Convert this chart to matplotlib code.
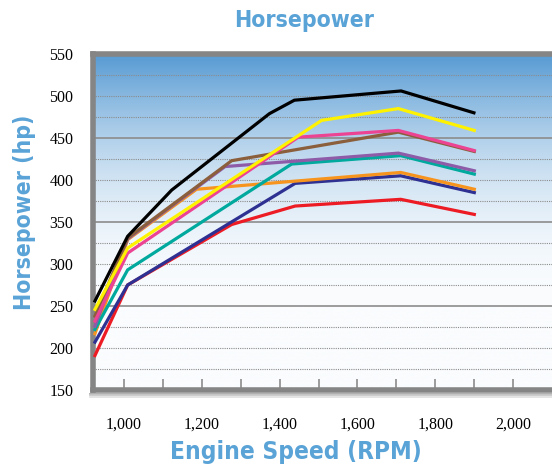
import matplotlib.pyplot as plt
import numpy as np
from matplotlib import font_manager
from matplotlib.font_manager import FontProperties
from matplotlib.lines import Line2D

# series: rpm points and horsepower values
black_rpm = [926, 1010, 1123, 1374, 1438, 1712, 1899]
black_hp = [256, 333, 388, 479, 495, 506, 480]
yellow_rpm = [926, 1010, 1508, 1705, 1900]
yellow_hp = [246, 319, 471, 485, 459]
pink_rpm = [926, 1010, 1448, 1705, 1900]
pink_hp = [232, 313, 451, 459, 435]
brown_rpm = [926, 1010, 1277, 1705, 1900]
brown_hp = [238, 331, 423, 457, 434]
purple_rpm = [926, 1010, 1260, 1705, 1900]
purple_hp = [226, 330, 416, 432, 411]
teal_rpm = [926, 1010, 1431, 1711, 1900]
teal_hp = [222, 293, 419, 429, 407]
orange_rpm = [926, 1010, 1187, 1711, 1900]
orange_hp = [217, 329, 389, 409, 389]
navy_rpm = [926, 1010, 1440, 1711, 1900]
navy_hp = [207, 275, 396, 405, 385]
red_rpm = [926, 1010, 1277, 1440, 1711, 1900]
red_hp = [191, 275, 347, 369, 377, 359]

series = [
    (red_rpm, red_hp, '#ED1C24'),
    (navy_rpm, navy_hp, '#2E3192'),
    (orange_rpm, orange_hp, '#F7941D'),
    (teal_rpm, teal_hp, '#00A99D'),
    (purple_rpm, purple_hp, '#8E5BA8'),
    (brown_rpm, brown_hp, '#8B5E3C'),
    (pink_rpm, pink_hp, '#EC4393'),
    (yellow_rpm, yellow_hp, '#FFF200'),
    (black_rpm, black_hp, '#000000'),
]

x_ticks = [1000, 1200, 1400, 1600, 1800, 2000]
x_labels = ['1,000', '1,200', '1,400', '1,600', '1,800', '2,000']
y_ticks = [150, 200, 250, 300, 350, 400, 450, 500, 550]

blue = '#5AA3D7'
num_font = 'Liberation Serif'


# pick the narrowest bold sans that is installed
def pick_condensed():
    order = {'ultra-condensed': 0, 'extra-condensed': 1, 'condensed': 2,
             'semi-condensed': 3, 'normal': 4}
    best = None
    for fe in font_manager.fontManager.ttflist:
        if fe.name not in ('Noto Sans', 'Open Sans', 'Roboto', 'DejaVu Sans',
                           'DejaVu Sans Condensed', 'Lato', 'Inter',
                           'Liberation Sans Narrow', 'Roboto Condensed',
                           'Open Sans Condensed'):
            continue
        w = fe.weight if isinstance(fe.weight, int) else {'bold': 700}.get(fe.weight, 400)
        if w < 600 or 'Italic' in fe.fname or fe.style != 'normal':
            continue
        st = fe.stretch
        if isinstance(st, int):
            rank = st / 125
        else:
            rank = order.get(st, 4)
        if 'Condensed' in fe.name or 'Narrow' in fe.name:
            rank = min(rank, 2)
        key = (rank, abs(w - 700))
        if best is None or key < best[0]:
            best = (key, fe.fname)
    return best[1] if best else None


head_path = pick_condensed()

fig = plt.figure(figsize=(5.52, 4.68), dpi=100)
ax = fig.add_axes([93 / 552, 1 - 390 / 468, (560 - 93) / 552, (390 - 54) / 468])
x0, x1 = 921, 2120
ax.set_xlim(x0, x1)
ax.set_ylim(150, 550)

# blue to white background
t = np.clip((550 - np.linspace(550, 150, 400)) / 300, 0, 1)
f = 1 - (1 - t) ** 2
top = np.array([86, 154, 211]) / 255
bot = np.array([250, 252, 254]) / 255
grad = top[None, :] + (bot - top)[None, :] * f[:, None]
ax.imshow(grad[:, None, :], extent=[x0, x1, 150, 550], aspect='auto', zorder=0)

for v in range(175, 550, 25):
    if (v - 150) % 100 == 0:
        ax.axhline(v, color='#8c8c8c', lw=1.2, zorder=1)
    else:
        ax.axhline(v, color='#8c8c8c', lw=0.8, ls=(0, (1, 1)), zorder=1)

for i, (xs, ys, c) in enumerate(series):
    ax.plot(xs, ys, color=c, lw=2.3, zorder=3 + i, solid_joinstyle='miter')

for s in ax.spines.values():
    s.set_color('#858585')
    s.set_linewidth(4)

# soft shadow under the frame
for k, col in enumerate(['#a8a8a8', '#c8c8c8', '#e2e2e2']):
    yy = 1 - (393.5 + k * 1.6) / 468
    fig.add_artist(Line2D([90 / 552, 1], [yy, yy], color=col, lw=1.3,
                          transform=fig.transFigure))

ax.set_xticks(x_ticks)
ax.set_xticklabels(x_labels, fontfamily=num_font, fontsize=11.5)
ax.set_xticks(range(1100, 2100, 200), minor=True)
ax.tick_params(axis='x', which='both', direction='in', length=8, width=1.2,
               color='#8c8c8c', pad=19)
ax.set_yticks(y_ticks)
ax.set_yticklabels([str(v) for v in y_ticks], fontfamily=num_font, fontsize=11.5)
ax.tick_params(axis='y', length=0, pad=14)


def head(x, y, s, span, rot=0):
    if head_path:
        fp = FontProperties(fname=head_path, size=20)
    else:
        fp = FontProperties(family='DejaVu Sans', weight='bold', size=20)
    txt = fig.text(x / 552, 1 - y / 468, s, color=blue, fontproperties=fp,
                   ha='center', va='center', rotation=rot)
    r = fig.canvas.get_renderer()
    bb = txt.get_window_extent(r)
    size = bb.height if rot else bb.width
    fp.set_size(min(22, 20 * span / size))
    txt.set_fontproperties(fp)
    return txt


# the original face is narrower than anything installed, so let the
# headings run a bit wider to keep their height closer
head(304, 21, 'Horsepower', 140)
head(25, 212, 'Horsepower (hp)', 195, rot=90)
head(296, 452, 'Engine Speed (RPM)', 252)

fig.savefig('out.png', dpi=100)
